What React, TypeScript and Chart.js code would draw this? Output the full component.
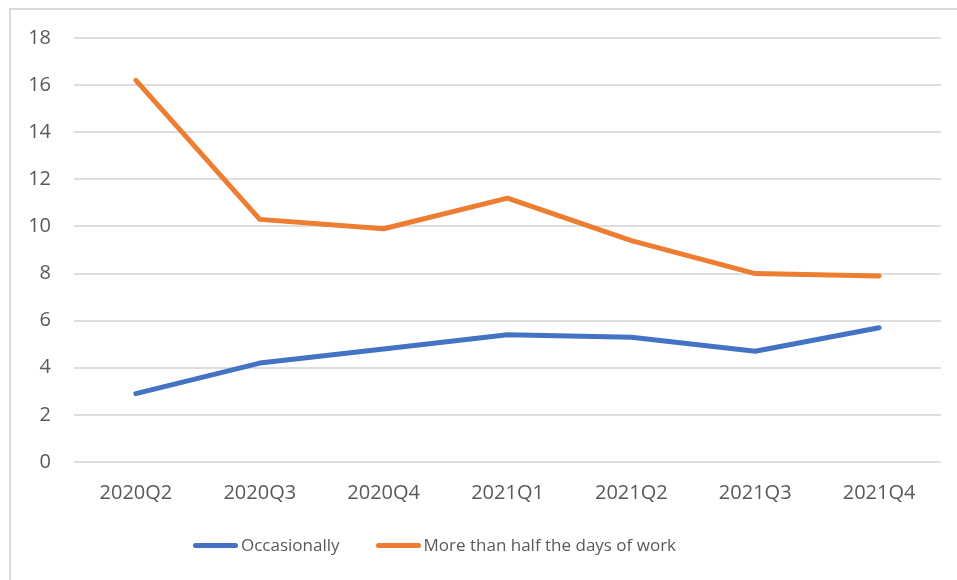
import React, { useEffect, useRef } from "react";
import { Chart, registerables } from "chart.js";

Chart.register(...registerables);

const categories = ["2020Q2", "2020Q3", "2020Q4", "2021Q1", "2021Q2", "2021Q3", "2021Q4"];
const occasionally = [2.9, 4.2, 4.8, 5.4, 5.3, 4.7, 5.7];
const moreThanHalf = [16.2, 10.3, 9.9, 11.2, 9.4, 8.0, 7.9];
const seriesNames = ["Occasionally", "More than half the days of work"];
const seriesColors = ["#4472C4", "#ED7D31"];
const yMin = 0;
const yMax = 18;
const yStep = 2;

const FONT = "'Open Sans', 'Noto Sans', sans-serif";
const TEXT = "#595959";

export default function App() {
  const ref = useRef<HTMLCanvasElement | null>(null);

  useEffect(() => {
    if (!ref.current) return;
    const chart = new Chart(ref.current, {
      type: "line",
      data: {
        labels: categories,
        datasets: [occasionally, moreThanHalf].map((d, i) => ({
          label: seriesNames[i],
          data: d,
          borderColor: seriesColors[i],
          backgroundColor: seriesColors[i],
          borderWidth: 5,
          borderCapStyle: "round" as const,
          borderJoinStyle: "round" as const,
          pointRadius: 0,
          pointHoverRadius: 0,
          tension: 0,
          fill: false,
        })),
      },
      options: {
        responsive: false,
        animation: false,
        layout: { padding: { top: 38, right: 16, bottom: 0, left: 0 } },
        plugins: {
          legend: { display: false },
          tooltip: { enabled: false },
        },
        scales: {
          x: {
            offset: true,
            grid: { display: false, drawTicks: false },
            border: { display: false },
            ticks: {
              padding: 19,
              color: TEXT,
              font: { family: FONT, size: 20 },
              maxRotation: 0,
            },
            afterFit: (s: any) => {
              s.height = 118;
            },
          },
          y: {
            min: yMin,
            max: yMax,
            grid: { color: "#dedede", lineWidth: 2, drawTicks: false },
            border: { display: false },
            ticks: {
              stepSize: yStep,
              padding: 23,
              color: TEXT,
              font: { family: FONT, size: 20 },
            },
            afterFit: (s: any) => {
              s.width = 74;
            },
          },
        },
      },
    });
    return () => chart.destroy();
  }, []);

  const legendText: React.CSSProperties = {
    fontFamily: FONT,
    fontSize: 17,
    color: TEXT,
    lineHeight: "24px",
    whiteSpace: "nowrap",
  };
  const line = (c: string): React.CSSProperties => ({
    display: "inline-block",
    width: 45,
    height: 5,
    borderRadius: 3,
    background: c,
    marginRight: 3,
  });

  return (
    <div style={{ position: "fixed", left: 0, top: 0, width: 957, height: 580, overflow: "hidden", background: "#fff" }}>
      <div
        style={{
          position: "absolute",
          left: 9,
          top: 8,
          width: 1000,
          height: 700,
          border: "2px solid #d9d9d9",
          boxSizing: "border-box",
        }}
      />
      <canvas ref={ref} width={957} height={580} style={{ position: "absolute", left: 0, top: 0, display: "block" }} />
      <div style={{ position: "absolute", left: 193, top: 533, display: "flex", alignItems: "center" }}>
        {seriesNames.map((n, i) => (
          <div key={n} style={{ display: "flex", alignItems: "center", marginRight: i === 0 ? 36 : 0 }}>
            <span style={line(seriesColors[i])} />
            <span style={legendText}>{n}</span>
          </div>
        ))}
      </div>
    </div>
  );
}
